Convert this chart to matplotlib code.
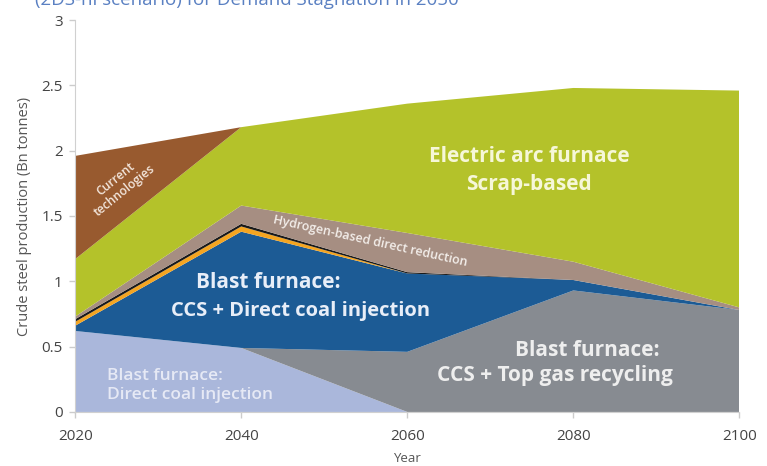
import matplotlib
matplotlib.use("Agg")
import matplotlib.pyplot as plt

plt.rcParams['font.family'] = ['Open Sans', 'DejaVu Sans']

# data (Bn tonnes)
years = [2020, 2040, 2060, 2080, 2100]
bf_dci = [0.62, 0.49, 0.0, 0.0, 0.0]          # Blast furnace: Direct coal injection
bf_tgr = [0.0, 0.0, 0.46, 0.93, 0.78]         # Blast furnace: CCS + Top gas recycling
bf_ccs_dci = [0.04, 0.89, 0.60, 0.08, 0.0]    # Blast furnace: CCS + Direct coal injection
orange_strip = [0.03, 0.04, 0.0, 0.0, 0.0]
black_strip = [0.02, 0.02, 0.01, 0.0, 0.0]
hydrogen_dr = [0.02, 0.14, 0.30, 0.14, 0.02]  # Hydrogen-based direct reduction
eaf_scrap = [0.44, 0.60, 0.99, 1.33, 1.66]    # Electric arc furnace, scrap-based
current_tech = [0.79, 0.0, 0.0, 0.0, 0.0]

colors = ['#aab7db', '#878b91', '#1c5b95', '#f4a521', '#1a1a1a',
          '#a68e82', '#b4c22a', '#985a2f']

y_ticks = [0, 0.5, 1, 1.5, 2, 2.5, 3]
y_tick_labels = ['0', '0.5', '1', '1.5', '2', '2.5', '3']

fig = plt.figure(figsize=(7.67, 4.66), dpi=100)
ax = fig.add_axes([0.098, 0.116, 0.866, 0.841])

ax.stackplot(years, bf_dci, bf_tgr, bf_ccs_dci, orange_strip, black_strip,
             hydrogen_dr, eaf_scrap, current_tech, colors=colors, linewidth=0)

ax.set_xlim(2020, 2100)
ax.set_ylim(0, 3)
ax.set_xticks(years)
ax.set_yticks(y_ticks)
ax.set_yticklabels(y_tick_labels)
ax.tick_params(axis='both', colors='#cccccc', labelcolor='#444444',
               labelsize=11, length=4, width=1)
ax.tick_params(axis='x', pad=8)
ax.tick_params(axis='y', pad=5)
for side in ['top', 'right']:
    ax.spines[side].set_visible(False)
for side in ['left', 'bottom']:
    ax.spines[side].set_color('#d0d0d0')

ax.set_ylabel('Crude steel production (Bn tonnes)', fontsize=10.5, color='#555555',
              labelpad=7)
ax.set_xlabel('Year', fontsize=9.5, color='#555555', labelpad=6)

# partly cut-off title
fig.text(0.045, 0.999, '(2DS-hi scenario) for Demand Stagnation in 2050',
         fontsize=13.5, color='#5a80c2', va='center', ha='left')

# area labels
ax.text(2074.7, 1.85, 'Electric arc furnace\nScrap-based', ha='center', va='center',
        fontsize=15, fontweight='bold', color='#f6f7d8', linespacing=1.45)
ax.text(2043.3, 0.99, 'Blast furnace:', ha='center', va='center',
        fontsize=15, fontweight='bold', color='#e8eef8')
ax.text(2047.1, 0.77, 'CCS + Direct coal injection', ha='center', va='center',
        fontsize=14.5, fontweight='bold', color='#e8eef8')
ax.text(2081.7, 0.47, 'Blast furnace:', ha='center', va='center',
        fontsize=15, fontweight='bold', color='#eeeeee')
ax.text(2077.8, 0.28, 'CCS + Top gas recycling', ha='center', va='center',
        fontsize=15, fontweight='bold', color='#eeeeee')
ax.text(2023.8, 0.20, 'Blast furnace:\nDirect coal injection', ha='left', va='center',
        fontsize=12.5, fontweight='semibold', color='#e6e9f5', linespacing=1.25)
ax.text(2025.4, 1.74, 'Current\ntechnologies', ha='center', va='center',
        fontsize=8.7, fontweight='semibold', color='#f3e6dc', rotation=39,
        linespacing=1.1)
ax.text(2055.5, 1.31, 'Hydrogen-based direct reduction', ha='center', va='center',
        fontsize=9, fontweight='semibold', color='#f3eeea', rotation=-12.5)

fig.savefig('out.png', dpi=100)
